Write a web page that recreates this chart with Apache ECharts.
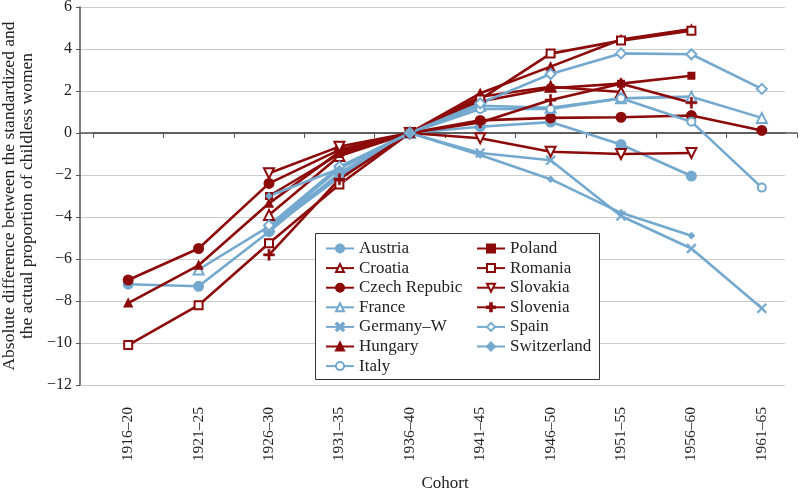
<!DOCTYPE html>
<html>
<head>
<meta charset="utf-8">
<script src="https://cdn.jsdelivr.net/npm/echarts@6/dist/echarts.min.js"></script>
<style>html,body{margin:0;padding:0;background:#fff}#c{width:800px;height:490px}</style>
</head>
<body>
<div id="c"></div>
<script>
const categories = ['1916–20','1921–25','1926–30','1931–35','1936–40','1941–45','1946–50','1951–55','1956–60','1961–65'];
const yTicks = [-12, 6, 2];
const austria     = [-7.2, -7.3, -4.7, -1.9, 0, 0.3, 0.52, -0.55, -2.05, null];
const croatia     = [null, null, -3.9, -1.1, 0, 1.73, 2.2, 1.95, null, null];
const czech       = [-7.0, -5.5, -2.4, -0.8, 0, 0.6, 0.72, 0.75, 0.83, 0.12];
const france      = [null, -6.5, -4.45, -2.0, 0, 1.3, 1.2, 1.65, 1.73, 0.72];
const germanyW    = [null, null, -4.6, -2.1, 0, -0.95, -1.3, -3.95, -5.5, -8.35];
const hungary     = [-8.1, -6.3, -3.35, -0.9, 0, 1.89, 3.16, 4.45, 4.95, null];
const italy       = [null, null, -4.5, -1.7, 0, 1.14, 1.14, 1.65, 0.54, -2.6];
const poland      = [null, null, -3.0, -1.0, 0, 1.5, 2.13, 2.35, 2.73, null];
const romania     = [-10.1, -8.2, -5.25, -2.45, 0, 1.6, 3.78, 4.4, 4.87, null];
const slovakia    = [null, null, -1.92, -0.65, 0, -0.25, -0.89, -1.0, -0.95, null];
const slovenia    = [null, null, -5.8, -2.2, 0, 0.5, 1.57, 2.35, 1.44, null];
const spain       = [null, null, -4.4, -1.6, 0, 1.41, 2.81, 3.79, 3.75, 2.1];
const switzerland = [null, null, -3.0, -1.7, 0, -1.05, -2.2, -3.8, -4.89, null];

const RED = '#8c0a0a', BLUE = '#74a9cf';
const FONT = 'Liberation Serif';
const X_PATH = 'path://M0,1.4L1.4,0L5,3.6L8.6,0L10,1.4L6.4,5L10,8.6L8.6,10L5,6.4L1.4,10L0,8.6L3.6,5Z';
const PLUS_PATH = 'path://M4,0H6V4H10V6H6V10H4V6H0V4H4Z';

function mk(name, data, color, symbol, size, rotate) {
  return {
    name, type: 'line', data, xAxisIndex: 1, yAxisIndex: 1,
    symbol, symbolSize: size, symbolRotate: rotate || 0,
    connectNulls: false,
    lineStyle: { color, width: 2.6 },
    itemStyle: { color, borderColor: color, borderWidth: symbol.startsWith('path') ? 0.5 : 2 },
    emphasis: { disabled: true },
    z: 2
  };
}

const series = [
  mk('Austria', austria, BLUE, 'circle', 9),
  mk('Croatia', croatia, RED, 'emptyTriangle', 10),
  mk('Czech Repubic', czech, RED, 'circle', 9),
  mk('France', france, BLUE, 'emptyTriangle', 10),
  mk('Germany–W', germanyW, BLUE, X_PATH, 10),
  mk('Hungary', hungary, RED, 'triangle', 7),
  mk('Italy', italy, BLUE, 'emptyCircle', 8),
  mk('Poland', poland, RED, 'rect', 6),
  mk('Romania', romania, RED, 'emptyRect', 8),
  mk('Slovakia', slovakia, RED, 'emptyTriangle', 10, 180),
  mk('Slovenia', slovenia, RED, PLUS_PATH, 11),
  mk('Spain', spain, BLUE, 'emptyDiamond', 10),
  mk('Switzerland', switzerland, BLUE, 'diamond', 5)
];

const names = series.map(s => s.name);
const legendCommon = {
  orient: 'vertical', padding: 0, itemWidth: 28, itemHeight: 10, itemGap: 2.6,
  textStyle: { fontFamily: FONT, fontSize: 17, color: '#222', lineHeight: 17 },
  selectedMode: false, z: 5
};

const chart = echarts.init(document.getElementById('c'), null, { renderer: 'canvas' });
chart.setOption({
  backgroundColor: '#fff',
  animation: false,
  textStyle: { fontFamily: FONT },
  grid: [
    { left: 80, right: 15, top: 7, bottom: 105, containLabel: false, outerBoundsMode: 'none' },
    { left: 93, right: 3, top: 7, bottom: 105, containLabel: false, outerBoundsMode: 'none' }
  ],
  xAxis: [
    { gridIndex: 0, type: 'value', min: 0, max: 1,
      axisLine: { show: true, onZero: true, lineStyle: { color: '#555', width: 1.5 } },
      axisTick: { show: false }, axisLabel: { show: false }, splitLine: { show: false } },
    { gridIndex: 1, type: 'category', data: categories, boundaryGap: true, offset: 11,
      axisLine: { show: true, lineStyle: { color: '#555', width: 1.5 } },
      axisTick: { show: true, inside: false, length: 5, lineStyle: { color: '#555' } },
      axisLabel: { rotate: 90, margin: 11, fontFamily: FONT, fontSize: 15.5, color: '#222', interval: 0 },
      splitLine: { show: false },
      name: 'Cohort', nameLocation: 'middle', nameGap: 79,
      nameTextStyle: { fontFamily: FONT, fontSize: 17, color: '#222' } }
  ],
  yAxis: [
    { gridIndex: 0, type: 'value', min: yTicks[0], max: yTicks[1], interval: yTicks[2],
      axisLine: { show: true, lineStyle: { color: '#555', width: 1.5 } },
      axisTick: { show: true, inside: false, length: 4, lineStyle: { color: '#555' } },
      axisLabel: { margin: 8, fontFamily: FONT, fontSize: 16, color: '#222',
        formatter: v => String(v).replace('-', '\u2212') },
      splitLine: { show: true, lineStyle: { color: '#cccccc', width: 1.2 } },
      name: 'Absolute difference between the standardized and\nthe actual proportion of childless women',
      nameLocation: 'middle', nameRotate: 90, nameGap: 38,
      nameTextStyle: { fontFamily: FONT, fontSize: 17.5, color: '#222', lineHeight: 18 } },
    { gridIndex: 1, type: 'value', min: yTicks[0], max: yTicks[1], interval: yTicks[2], show: false }
  ],
  legend: [
    Object.assign({ data: names.slice(0, 7), left: 325, top: 240 }, legendCommon),
    Object.assign({ data: names.slice(7), left: 476, top: 240 }, legendCommon)
  ],
  graphic: [{
    type: 'rect', z: 4, silent: true,
    shape: { x: 315.5, y: 233.5, width: 284, height: 146 },
    style: { fill: '#fff', stroke: '#333', lineWidth: 1 }
  }],
  series
});
</script>
</body>
</html>
